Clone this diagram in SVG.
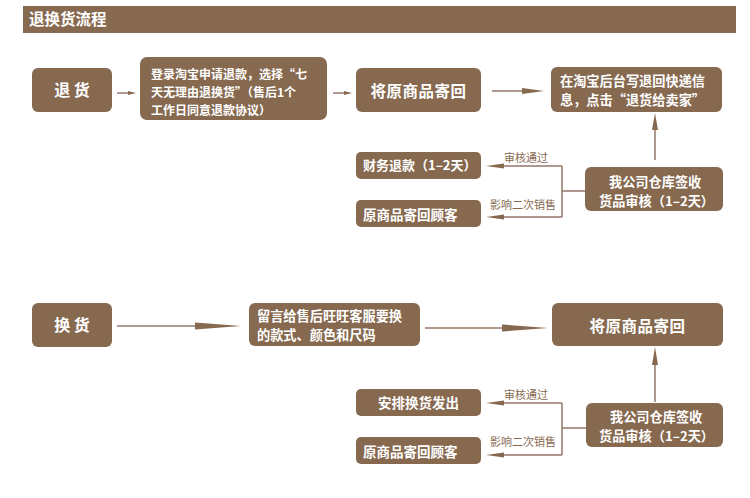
<svg xmlns="http://www.w3.org/2000/svg" width="750" height="498" viewBox="0 0 750 498">
<style>
.box{fill:#86694f}
.t{fill:#fff;font-family:"Noto Sans CJK SC","Noto Sans",sans-serif;font-weight:bold}
.c{text-anchor:middle}
.ln{stroke:#95786a;stroke-width:1.5;fill:none}
.ah{fill:#86694f}
.lab{fill:#86694f;font-family:"Noto Sans CJK SC","Noto Sans",sans-serif;font-size:11px}
</style>
<rect width="750" height="498" fill="#fff"/>
<g id="title">
<rect x="23" y="6" width="713" height="27" class="box"/>
<text x="29" y="25" class="t" font-size="15.5">退换货流程</text>
</g>
<g id="n_tuihuo"><rect x="32" y="68" width="80" height="44" rx="6" class="box"/><text x="72" y="96" class="t c" font-size="16">退 货</text></g>
<g id="n_login"><rect x="140" y="57" width="187" height="63" rx="7" class="box"/>
<text x="151" y="79" class="t" font-size="12">登录淘宝申请退款，选择“七</text>
<text x="151" y="97" class="t" font-size="12">天无理由退换货”（售后1个</text>
<text x="151" y="115" class="t" font-size="12">工作日同意退款协议）</text></g>
<g id="n_send1"><rect x="356" y="68" width="125" height="44" rx="6" class="box"/><text x="418.5" y="97" class="t c" font-size="15.5" letter-spacing="0.5">将原商品寄回</text></g>
<g id="n_fill"><rect x="551" y="67" width="171" height="45" rx="6" class="box"/>
<text x="560" y="86" class="t" font-size="13.2">在淘宝后台写退回快递信</text>
<text x="560" y="105" class="t" font-size="13.2">息，点击“退货给卖家”</text></g>
<g id="n_check1"><rect x="585" y="167" width="138" height="44" rx="6" class="box"/>
<text x="609" y="186.5" class="t" font-size="13.2">我公司仓库签收</text>
<text x="599" y="205.5" class="t" font-size="13.2">货品审核（1–2天）</text></g>
<g id="n_refund"><rect x="356" y="152" width="125" height="27" rx="5" class="box"/><text x="363" y="170" class="t" font-size="13">财务退款（1–2天）</text></g>
<g id="n_back1"><rect x="356" y="200" width="125" height="27" rx="5" class="box"/><text x="363" y="220" class="t" font-size="13.5">原商品寄回顾客</text></g>

<g id="n_huanhuo"><rect x="32" y="303" width="80" height="44" rx="6" class="box"/><text x="72" y="331" class="t c" font-size="16">换 货</text></g>
<g id="n_msg"><rect x="249" y="303" width="171" height="43" rx="6" class="box"/>
<text x="257" y="321" class="t" font-size="13.2">留言给售后旺旺客服要换</text>
<text x="257" y="340" class="t" font-size="13.2">的款式、颜色和尺码</text></g>
<g id="n_send2"><rect x="552" y="303" width="171" height="43" rx="6" class="box"/><text x="637.5" y="332" class="t c" font-size="15.5" letter-spacing="0.5">将原商品寄回</text></g>
<g id="n_check2"><rect x="586" y="403" width="137" height="44" rx="6" class="box"/>
<text x="610" y="421.5" class="t" font-size="13.2">我公司仓库签收</text>
<text x="599" y="440.5" class="t" font-size="13.2">货品审核（1–2天）</text></g>
<g id="n_ship"><rect x="356" y="389" width="125" height="27" rx="5" class="box"/><text x="418.5" y="408" class="t c" font-size="13.5">安排换货发出</text></g>
<g id="n_back2"><rect x="356" y="437" width="125" height="27" rx="5" class="box"/><text x="363" y="457" class="t" font-size="13.5">原商品寄回顾客</text></g>

<g id="connectors">
<path class="ln" d="M117 93H130"/><polygon class="ah" points="128,91 136,93 128,95"/>
<path class="ln" d="M333 93H346"/><polygon class="ah" points="344,91 352,93 344,95"/>
<path class="ln" d="M492 91H526"/><polygon class="ah" points="522,88 544,91 522,94"/>
<path class="ln" d="M655 160V128"/><polygon class="ah" points="652,130 655,113 658,130"/>
<path class="ln" d="M585 191H562M562 166V217M562 166H500M562 217H500"/>
<polygon class="ah" points="504,163.5 486,166 504,168.5"/>
<polygon class="ah" points="504,214.5 486,217 504,219.5"/>
<text x="526" y="162" class="lab c">审核通过</text>
<text x="523" y="209" class="lab c">影响二次销售</text>

<path class="ln" d="M117 326H200"/><polygon class="ah" points="195,322.5 241,326 195,329.5"/>
<path class="ln" d="M425 328H505"/><polygon class="ah" points="502,324.5 548,328 502,331.5"/>
<path class="ln" d="M655 402V363"/><polygon class="ah" points="652,365 655,347 658,365"/>
<path class="ln" d="M586 428H562M562 403V455M562 403H500M562 455H500"/>
<polygon class="ah" points="504,400.5 486,403 504,405.5"/>
<polygon class="ah" points="504,452.5 486,455 504,457.5"/>
<text x="526" y="399" class="lab c">审核通过</text>
<text x="523" y="446" class="lab c">影响二次销售</text>
</g>
</svg>
